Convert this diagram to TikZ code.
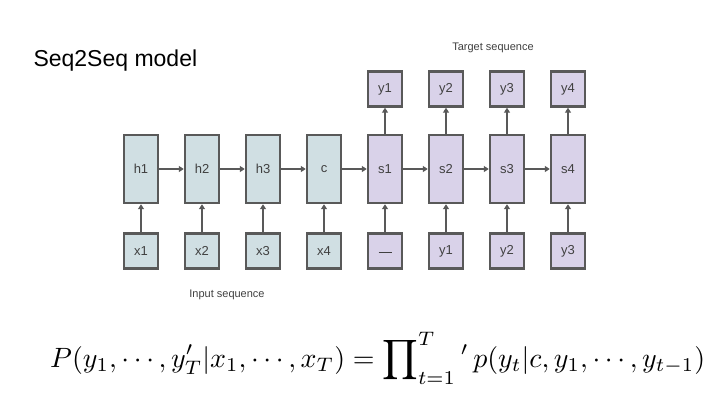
\documentclass[tikz,border=0pt]{standalone}
\usepackage{fontspec}
\setmainfont{Liberation Sans}
\usepackage{graphicx}
\usetikzlibrary{arrows.meta}
\definecolor{enc}{HTML}{D0DFE3}
\definecolor{dec}{HTML}{D9D2E9}
\definecolor{bd}{HTML}{595959}
\definecolor{tx}{HTML}{404040}
\begin{document}
\begin{tikzpicture}[x=1pt,y=-1pt,
  base/.style={draw=bd,line width=2.4pt,minimum width=34pt,inner sep=0pt,font=\fontsize{13}{15}\selectfont,text=tx},
  tall/.style={base,minimum height=68pt},
  small/.style={base,minimum height=35pt},
  arr/.style={draw=bd,line width=2pt,-{Triangle[length=5pt,width=6pt]}}]
\useasboundingbox (0,0) rectangle (720,405);
\node[anchor=west,font=\fontsize{23}{26}\selectfont,text=black] (title) at (30,61) {Seq2Seq model};
\node[font=\fontsize{11}{13}\selectfont,text=tx] (tgt) at (493,48) {Target sequence};
\node[font=\fontsize{11}{13}\selectfont,text=tx] (inp) at (227,295) {Input sequence};
\foreach \i/\x/\h/\l in {1/141/h1/x1,2/202/h2/x2,3/263/h3/x3,4/324/c/x4}{
  \node[tall,fill=enc] (t\i) at (\x,169) {\h};
  \node[small,fill=enc] (b\i) at (\x,251) {\l};
  \draw[arr] (b\i) -- (t\i);
}
\foreach \i/\x/\l in {5/385/\rule[-3pt]{13pt}{0.8pt},6/446/y1,7/507/y2,8/568/y3}{
  \pgfmathtruncatemacro{\k}{\i-4}
  \node[tall,fill=dec] (t\i) at (\x,169) {s\k};
  \node[small,fill=dec] (b\i) at (\x,251) {\l};
  \node[small,fill=dec] (y\i) at (\x,89) {y\k};
  \draw[arr] (b\i) -- (t\i);
  \draw[arr] (t\i) -- (y\i);
}
\foreach \a/\b in {1/2,2/3,3/4,4/5,5/6,6/7,7/8}{\draw[arr] (t\a) -- (t\b);}
\node[anchor=west,inner sep=0pt] (eq) at (50,358)
 {\resizebox{655pt}{!}{$\displaystyle P(y_1,\cdots,y'_T|x_1,\cdots,x_T)=\prod\nolimits_{t=1}^{T}{}'\,p(y_t|c,y_1,\cdots,y_{t-1})$}};
\end{tikzpicture}
\end{document}
